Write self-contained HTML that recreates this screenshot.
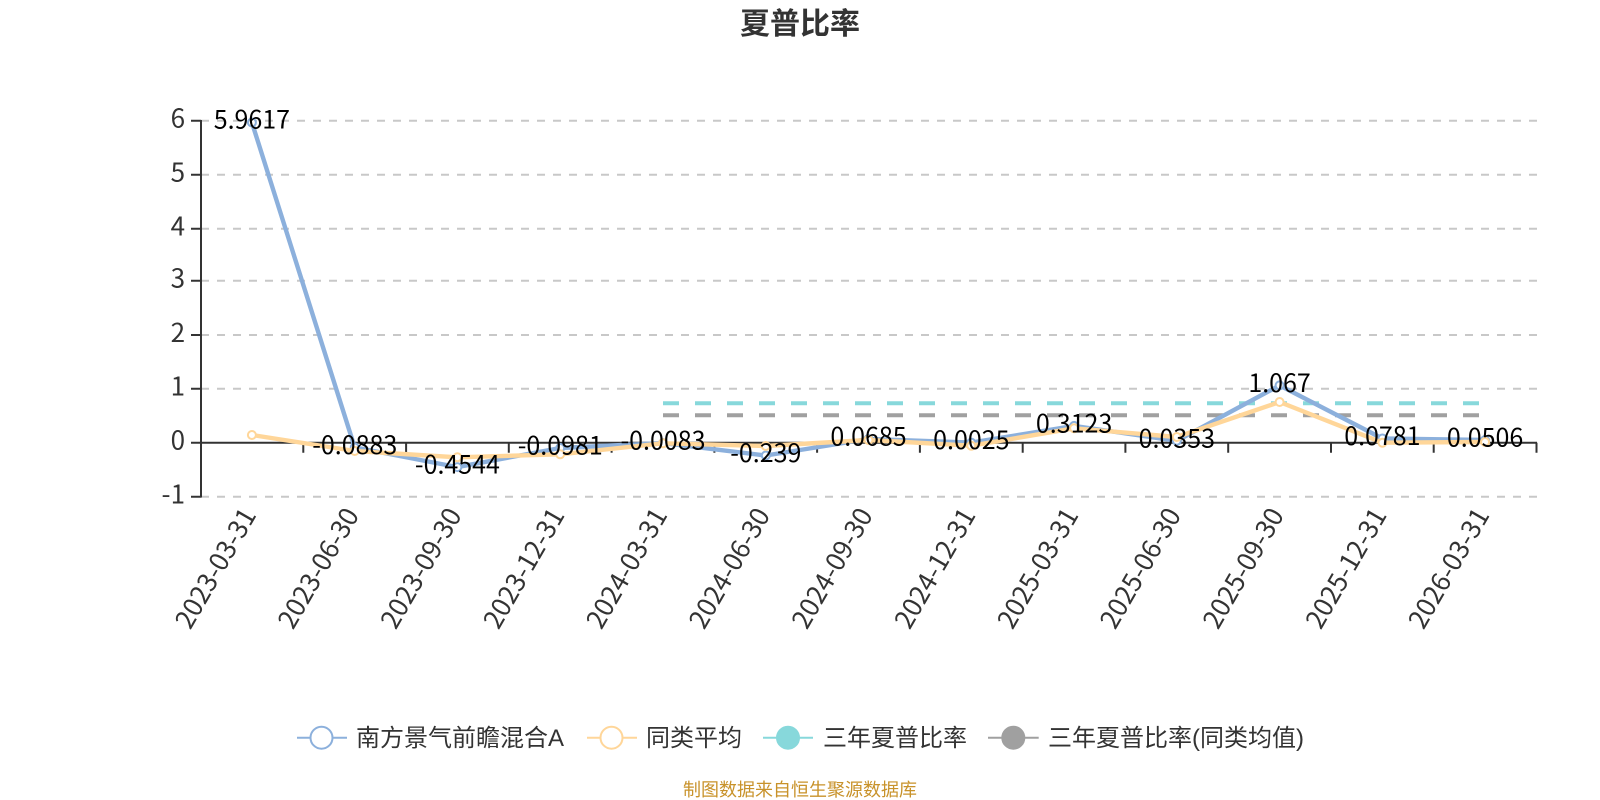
<!DOCTYPE html>
<html lang="zh">
<head>
<meta charset="utf-8">
<title>夏普比率</title>
<style>
html,body{margin:0;padding:0;background:#fff;}
svg{display:block;}
text{font-family:"Liberation Sans","Noto Sans CJK SC",sans-serif;}
.n{font-family:"Noto Sans CJK SC","Liberation Sans",sans-serif;}
</style>
</head>
<body>
<svg width="1600" height="800" viewBox="0 0 1600 800" xmlns="http://www.w3.org/2000/svg">
<rect width="1600" height="800" fill="#fff"/>
<text x="800" y="34" text-anchor="middle" class="n" font-size="30" font-weight="700" fill="#333">夏普比率</text>

<g stroke="#c8c8c8" stroke-width="2" stroke-dasharray="8 8" fill="none">
<path d="M201 120.7H1537"/><path d="M201 174.7H1537"/><path d="M201 228.7H1537"/><path d="M201 280.7H1537"/><path d="M201 335H1537"/><path d="M201 388.7H1537"/><path d="M201 496.7H1537"/>
</g>

<g stroke="#333" stroke-width="2" fill="none">
<path d="M201 120V497.5"/>
<path d="M191 120.7H201M191 174.7H201M191 228.7H201M191 280.7H201M191 335H201M191 388.7H201M191 442.7H201M191 496.7H201"/>
<path d="M200 442.7H1537"/>
<path d="M303.3 442.7v10M406.1 442.7v10M508.8 442.7v10M611.6 442.7v10M714.4 442.7v10M817.1 442.7v10M919.9 442.7v10M1022.7 442.7v10M1125.4 442.7v10M1228.2 442.7v10M1331 442.7v10M1433.7 442.7v10M1536.5 442.7v10"/>
</g>

<g class="n" font-size="26" fill="#333" text-anchor="end">
<text class="n" x="185" y="127.5">6</text>
<text class="n" x="185" y="181.5">5</text>
<text class="n" x="185" y="235.5">4</text>
<text class="n" x="185" y="287.5">3</text>
<text class="n" x="185" y="342">2</text>
<text class="n" x="185" y="395.5">1</text>
<text class="n" x="185" y="449.5">0</text>
<text class="n" x="185" y="503.5">-1</text>
</g>

<g font-size="26" fill="#333" text-anchor="end">
<text class="n" transform="translate(257,515) rotate(-60)">2023-03-31</text>
<text class="n" transform="translate(359.8,515) rotate(-60)">2023-06-30</text>
<text class="n" transform="translate(462.5,515) rotate(-60)">2023-09-30</text>
<text class="n" transform="translate(565.3,515) rotate(-60)">2023-12-31</text>
<text class="n" transform="translate(668.1,515) rotate(-60)">2024-03-31</text>
<text class="n" transform="translate(770.9,515) rotate(-60)">2024-06-30</text>
<text class="n" transform="translate(873.6,515) rotate(-60)">2024-09-30</text>
<text class="n" transform="translate(976.4,515) rotate(-60)">2024-12-31</text>
<text class="n" transform="translate(1079.2,515) rotate(-60)">2025-03-31</text>
<text class="n" transform="translate(1181.9,515) rotate(-60)">2025-06-30</text>
<text class="n" transform="translate(1284.7,515) rotate(-60)">2025-09-30</text>
<text class="n" transform="translate(1387.5,515) rotate(-60)">2025-12-31</text>
<text class="n" transform="translate(1490.2,515) rotate(-60)">2026-03-31</text>
</g>

<path d="M663 403.3H1485" stroke="#87d8db" stroke-width="4" stroke-dasharray="16 16" fill="none"/>
<path d="M663 415.3H1485" stroke="#a0a0a0" stroke-width="4" stroke-dasharray="16 16" fill="none"/>

<polyline fill="none" stroke="#8cb0dc" stroke-width="4.4" stroke-linejoin="round" points="251.9,122.5 354.7,447.4 457.4,467.1 560.2,448 663,443.1 765.8,455.5 868.5,439 971.3,442.6 1074.1,425.9 1176.8,440.8 1279.6,385.4 1382.4,438.5 1485.1,440"/>
<g fill="#fff" stroke="#8cb0dc" stroke-width="2">
<circle cx="251.9" cy="122.5" r="4"/><circle cx="354.7" cy="447.4" r="4"/><circle cx="457.4" cy="467.1" r="4"/><circle cx="560.2" cy="448" r="4"/><circle cx="663" cy="443.1" r="4"/><circle cx="765.8" cy="455.5" r="4"/><circle cx="868.5" cy="439" r="4"/><circle cx="971.3" cy="442.6" r="4"/><circle cx="1074.1" cy="425.9" r="4"/><circle cx="1176.8" cy="440.8" r="4"/><circle cx="1279.6" cy="385.4" r="4"/><circle cx="1382.4" cy="438.5" r="4"/><circle cx="1485.1" cy="440" r="4"/>
</g>

<polyline fill="none" stroke="#ffd699" stroke-width="4.4" stroke-linejoin="round" points="251.9,435 354.7,451 457.4,457.3 560.2,454.3 663,443.3 765.8,446 868.5,440 971.3,445.7 1074.1,428.3 1176.8,437 1279.6,402 1382.4,442.7 1485.1,442"/>
<g fill="#fff" stroke="#ffd699" stroke-width="2">
<circle cx="251.9" cy="435" r="4"/><circle cx="354.7" cy="451" r="4"/><circle cx="457.4" cy="457.3" r="4"/><circle cx="560.2" cy="454.3" r="4"/><circle cx="663" cy="443.3" r="4"/><circle cx="765.8" cy="446" r="4"/><circle cx="868.5" cy="440" r="4"/><circle cx="971.3" cy="445.7" r="4"/><circle cx="1074.1" cy="428.3" r="4"/><circle cx="1176.8" cy="437" r="4"/><circle cx="1279.6" cy="402" r="4"/><circle cx="1382.4" cy="442.7" r="4"/><circle cx="1485.1" cy="442" r="4"/>
</g>

<g font-size="25" fill="#000" text-anchor="middle">
<text class="n" x="251.9" y="128.5">5.9617</text>
<text class="n" x="354.7" y="454">-0.0883</text>
<text class="n" x="457.4" y="473.6">-0.4544</text>
<text class="n" x="560.2" y="454.5">-0.0981</text>
<text class="n" x="663" y="449.6">-0.0083</text>
<text class="n" x="765.8" y="462">-0.239</text>
<text class="n" x="868.5" y="445.5">0.0685</text>
<text class="n" x="971.3" y="449.1">0.0025</text>
<text class="n" x="1074.1" y="432.4">0.3123</text>
<text class="n" x="1176.8" y="447.3">0.0353</text>
<text class="n" x="1279.6" y="391.9">1.067</text>
<text class="n" x="1382.4" y="445">0.0781</text>
<text class="n" x="1485.1" y="446.5">0.0506</text>
</g>

<g fill="none" stroke-width="2">
<path d="M297 737.7H347" stroke="#8cb0dc"/>
<circle cx="321.5" cy="737.7" r="11" fill="#fff" stroke="#8cb0dc"/>
<path d="M587 737.7H637" stroke="#ffd699"/>
<circle cx="611.5" cy="737.7" r="11" fill="#fff" stroke="#ffd699"/>
<path d="M763 737.7H813" stroke="#87d8db"/>
<circle cx="788" cy="737.7" r="11" fill="#87d8db" stroke="#87d8db"/>
<path d="M988 737.7H1038.7" stroke="#a0a0a0"/>
<circle cx="1013.3" cy="737.7" r="11" fill="#a0a0a0" stroke="#a0a0a0"/>
</g>
<g font-size="24" fill="#333">
<text x="356" y="746">南方景气前瞻混合A</text>
<text x="646" y="746">同类平均</text>
<text x="823" y="746">三年夏普比率</text>
<text x="1048" y="746">三年夏普比率(同类均值)</text>
</g>

<text x="800" y="796" text-anchor="middle" font-size="18" fill="#c8922a">制图数据来自恒生聚源数据库</text>
</svg>
</body>
</html>
